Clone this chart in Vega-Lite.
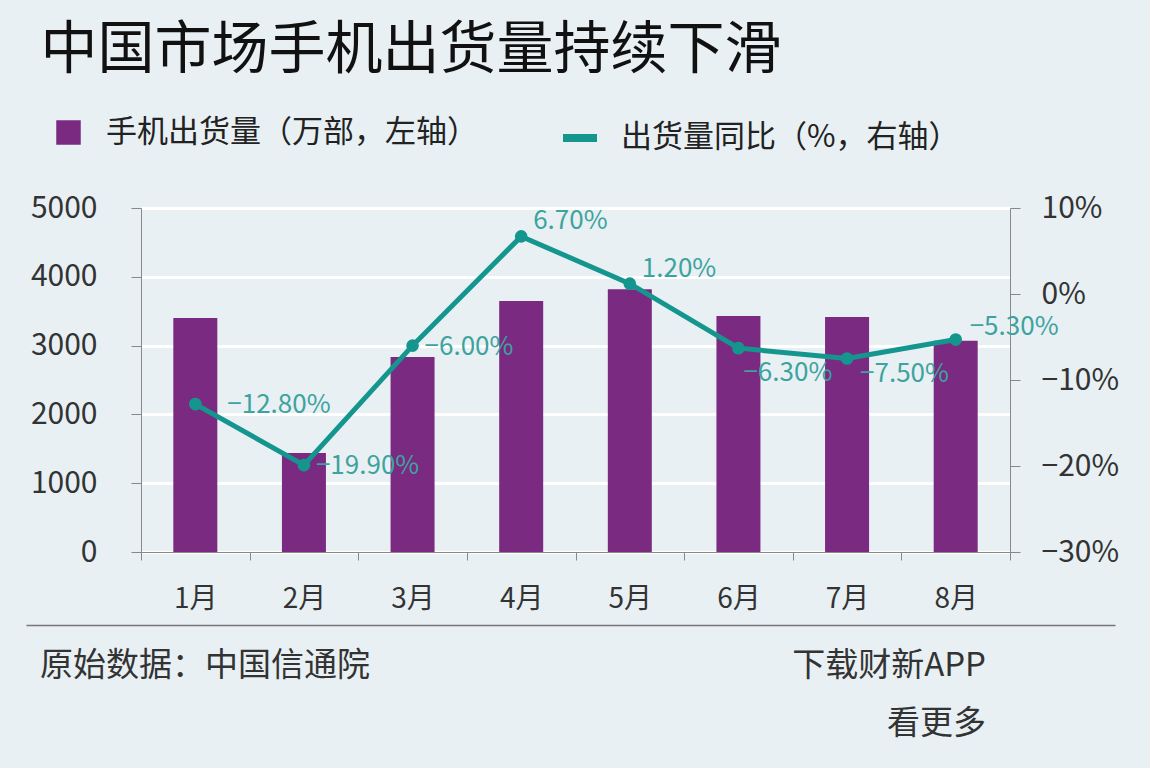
{
  "$schema": "https://vega.github.io/schema/vega-lite/v6.json",
  "background": "#e8f0f3",
  "padding": {"left": 30, "top": 22, "right": 40, "bottom": 20},
  "title": {
    "text": "中国市场手机出货量持续下滑",
    "anchor": "start",
    "frame": "bounds",
    "font": "Noto Sans CJK SC",
    "fontSize": 57,
    "fontWeight": "normal",
    "color": "#111111",
    "offset": 37,
    "dx": 10
  },
  "spacing": 12,
  "vconcat": [
    {
      "width": 869,
      "height": 344,
      "data": {
        "values": [
          {"month": "1月", "shipments": 3400, "yoy": -0.128},
          {"month": "2月", "shipments": 1440, "yoy": -0.199},
          {"month": "3月", "shipments": 2835, "yoy": -0.06},
          {"month": "4月", "shipments": 3650, "yoy": 0.067},
          {"month": "5月", "shipments": 3820, "yoy": 0.012},
          {"month": "6月", "shipments": 3430, "yoy": -0.063},
          {"month": "7月", "shipments": 3415, "yoy": -0.075},
          {"month": "8月", "shipments": 3070, "yoy": -0.053}
        ]
      },
      "encoding": {
        "x": {
          "field": "month",
          "type": "ordinal",
          "sort": null,
          "scale": {"paddingInner": 0, "paddingOuter": 0},
          "axis": {
            "title": null,
            "labelAngle": 0,
            "labelFontSize": 28,
            "labelColor": "#333333",
            "labelPadding": 25,
            "tickBand": "extent",
            "tickSize": 8,
            "tickColor": "#888888",
            "domainColor": "#888888",
            "grid": false
          }
        }
      },
      "layer": [
        {
          "mark": {"type": "bar", "width": {"band": 0.405}},
          "encoding": {
            "y": {
              "field": "shipments",
              "type": "quantitative",
              "scale": {"domain": [0, 5000], "nice": false},
              "axis": {
                "title": null,
                "orient": "left",
                "values": [0, 1000, 2000, 3000, 4000, 5000],
                "format": "d",
                "labelFontSize": 30,
                "labelColor": "#333333",
                "labelPadding": 34,
                "tickSize": 10,
                "tickColor": "#888888",
                "domainColor": "#888888",
                "grid": true,
                "gridColor": "#ffffff",
                "gridWidth": 3
              }
            },
            "fill": {
              "datum": "手机出货量（万部，左轴）",
              "scale": {"range": ["#7b2a82"]},
              "legend": {
                "title": null,
                "orient": "none",
                "legendX": -88,
                "legendY": -91,
                "padding": 0,
                "symbolType": "square",
                "symbolSize": 600,
                "symbolStrokeWidth": 0,
                "labelFontSize": 31,
                "labelColor": "#222222",
                "labelOffset": 22,
                "labelLimit": 600
              }
            }
          }
        },
        {
          "encoding": {
            "y": {
              "field": "yoy",
              "type": "quantitative",
              "scale": {"domain": [-0.3, 0.1], "nice": false, "zero": false},
              "axis": {
                "title": null,
                "orient": "right",
                "values": [-0.3, -0.2, -0.1, 0, 0.1],
                "format": ".0%",
                "labelFontSize": 30,
                "labelColor": "#333333",
                "labelPadding": 21,
                "tickSize": 10,
                "tickColor": "#888888",
                "domainColor": "#888888",
                "grid": false
              }
            }
          },
          "layer": [
            {
              "mark": {"type": "rule", "color": "#e8262a", "strokeDash": [2, 2], "strokeWidth": 1.5},
              "encoding": {"y": {"datum": 0}}
            },
            {
              "mark": {"type": "line", "strokeWidth": 5},
              "encoding": {
                "stroke": {
                  "datum": "出货量同比（%，右轴）",
                  "scale": {"range": ["#14968f"]},
                  "legend": {
                    "title": null,
                    "orient": "none",
                    "legendX": 418,
                    "legendY": -91,
                    "padding": 0,
                    "symbolType": "stroke",
                    "symbolSize": 1156,
                    "symbolStrokeWidth": 8,
                    "labelFontSize": 31,
                    "labelColor": "#222222",
                    "labelOffset": 20,
                    "labelLimit": 600
                  }
                }
              }
            },
            {
              "mark": {"type": "point", "filled": true, "size": 160, "color": "#14968f", "opacity": 1}
            },
            {
              "transform": [{"filter": "datum.month == '1月'"}],
              "mark": {"type": "text", "align": "left", "baseline": "middle", "dx": 32, "dy": 1, "fontSize": 26, "color": "#3da39e"},
              "encoding": {"text": {"field": "yoy", "format": ".2%"}}
            },
            {
              "transform": [{"filter": "datum.month == '2月' || datum.month == '3月'"}],
              "mark": {"type": "text", "align": "left", "baseline": "middle", "dx": 12, "dy": 1, "fontSize": 26, "color": "#3da39e"},
              "encoding": {"text": {"field": "yoy", "format": ".2%"}}
            },
            {
              "transform": [{"filter": "datum.month == '4月' || datum.month == '5月'"}],
              "mark": {"type": "text", "align": "left", "baseline": "middle", "dx": 12, "dy": -15, "fontSize": 26, "color": "#3da39e"},
              "encoding": {"text": {"field": "yoy", "format": ".2%"}}
            },
            {
              "transform": [{"filter": "datum.month == '8月'"}],
              "mark": {"type": "text", "align": "left", "baseline": "middle", "dx": 14, "dy": -13, "fontSize": 26, "color": "#3da39e"},
              "encoding": {"text": {"field": "yoy", "format": ".2%"}}
            },
            {
              "transform": [{"filter": "datum.month == '6月'"}],
              "mark": {"type": "text", "align": "left", "baseline": "middle", "dx": 5, "dy": 25, "fontSize": 26, "color": "#3da39e"},
              "encoding": {"text": {"field": "yoy", "format": ".2%"}}
            },
            {
              "transform": [{"filter": "datum.month == '7月'"}],
              "mark": {"type": "text", "align": "left", "baseline": "middle", "dx": 13, "dy": 15, "fontSize": 26, "color": "#3da39e"},
              "encoding": {"text": {"field": "yoy", "format": ".2%"}}
            }
          ]
        }
      ],
      "resolve": {"scale": {"y": "independent"}}
    },
    {
      "width": 974,
      "height": 130,
      "data": {
        "values": [
          {"side": 0, "label": "原始数据：中国信通院"},
          {"side": 1, "label": "下载财新APP\n看更多"}
        ]
      },
      "encoding": {
        "x": {
          "field": "side",
          "type": "quantitative",
          "scale": {"domain": [0, 1], "nice": false, "range": [-115, 974]},
          "axis": {
            "orient": "top",
            "title": null,
            "labels": false,
            "ticks": false,
            "grid": false,
            "domain": true,
            "domainColor": "#777777",
            "domainWidth": 1.5
          }
        },
        "text": {"field": "label"}
      },
      "layer": [
        {
          "transform": [{"filter": "datum.side == 0"}],
          "mark": {"type": "text", "align": "left", "baseline": "top", "dx": 14, "dy": -40, "fontSize": 33, "color": "#333333", "lineBreak": "\n", "lineHeight": 58}
        },
        {
          "transform": [{"filter": "datum.side == 1"}],
          "mark": {"type": "text", "align": "right", "baseline": "top", "dx": -129, "dy": -40, "fontSize": 33, "color": "#333333", "lineBreak": "\n", "lineHeight": 58}
        }
      ]
    }
  ],
  "config": {
    "font": "Noto Sans CJK SC",
    "view": {"stroke": null},
    "axis": {"labelFont": "Noto Sans CJK SC"},
    "legend": {"labelFont": "Noto Sans CJK SC"}
  }
}
